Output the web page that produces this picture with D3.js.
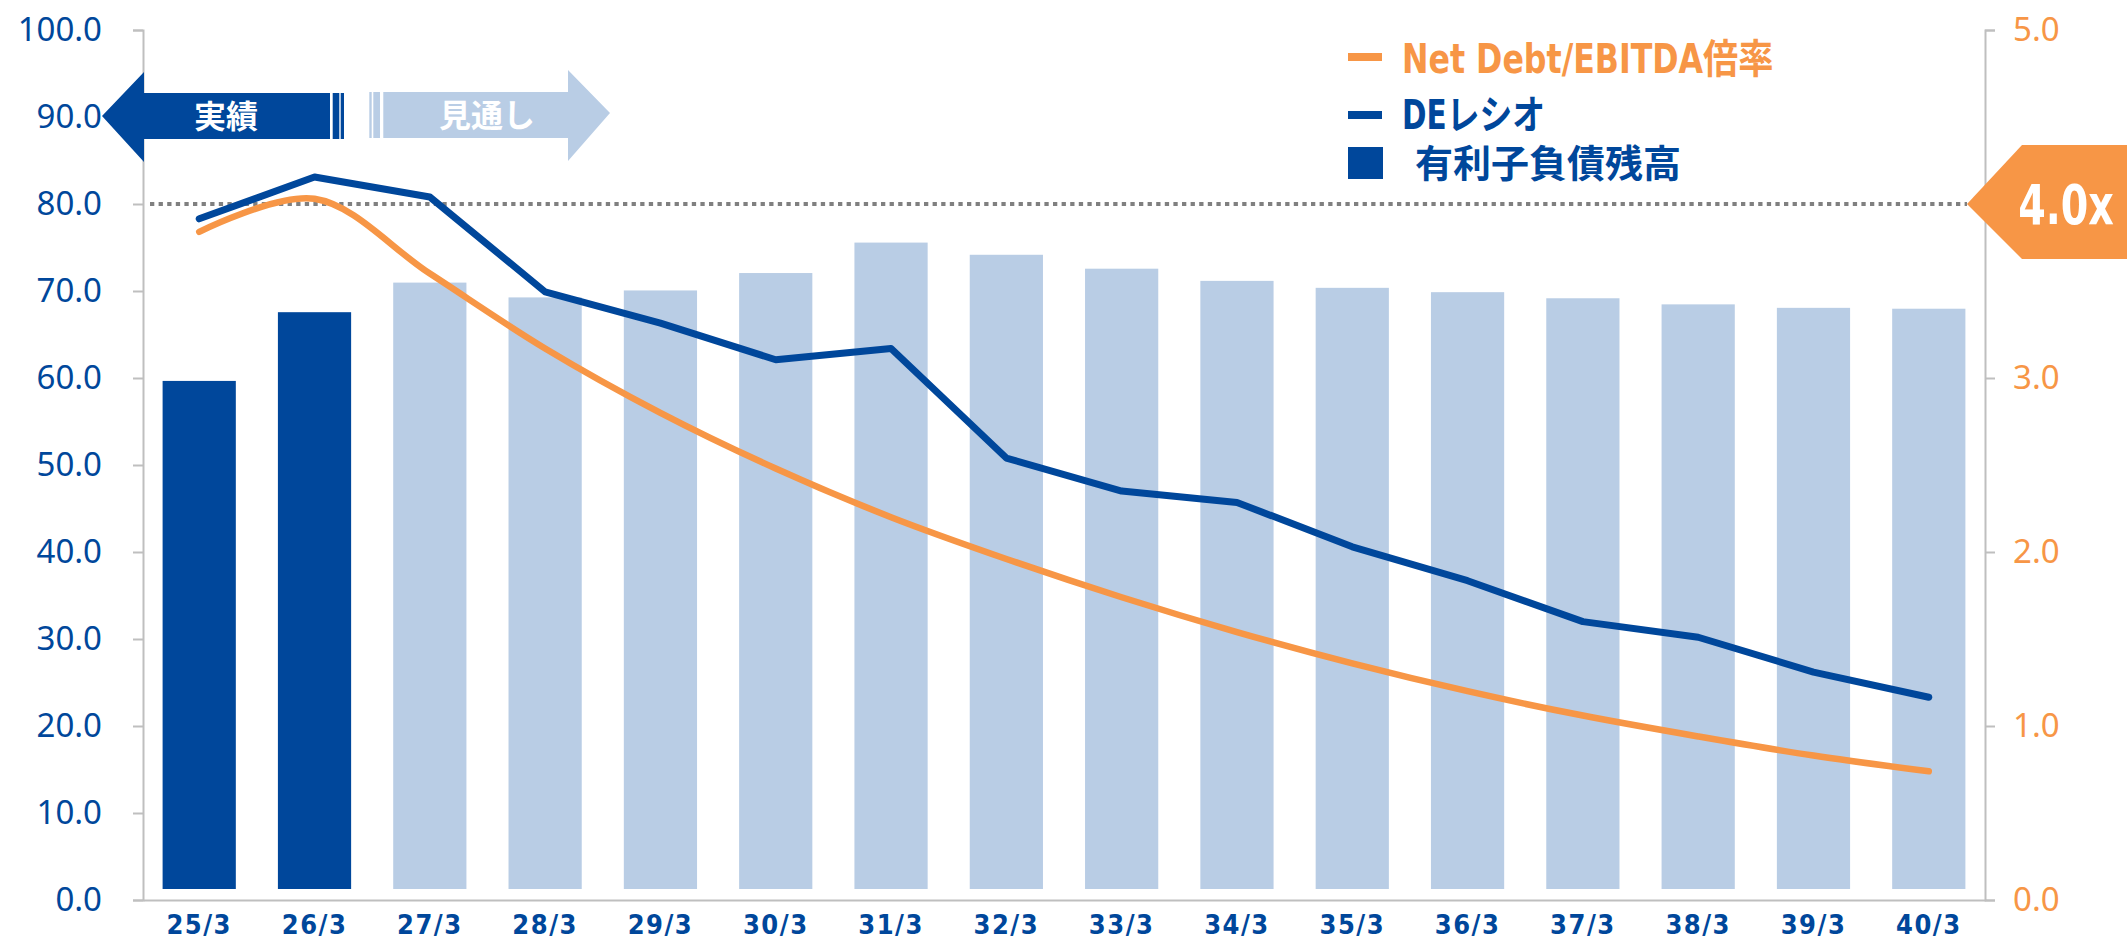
<!DOCTYPE html>
<html>
<head>
<meta charset="utf-8">
<script src="https://cdn.jsdelivr.net/npm/d3@7"></script>
<style>
    body { margin: 0; background: #fff; }
    .axis path, .axis line { stroke: #bfbfbf; stroke-width: 2; }
    .tick-label { font-family: "Noto Sans", "Open Sans", sans-serif; font-size: 33px; font-weight: 400; }
    .cond { font-family: "Liberation Sans Narrow", "DejaVu Sans Condensed", "Noto Sans CJK JP", sans-serif; }
    .jp { font-family: "Noto Sans CJK JP", sans-serif; font-weight: 700; }
</style>
</head>
<body>
<div id="chart"></div>
<script>

// ---- data ----
const categories = ["25/3", "26/3", "27/3", "28/3", "29/3", "30/3", "31/3", "32/3",
    "33/3", "34/3", "35/3", "36/3", "37/3", "38/3", "39/3", "40/3"];

// 有利子負債残高 (bars, left axis)
const debtBalance = [58.4, 66.3, 69.7, 68.0, 68.8, 70.8, 74.3, 72.9,
    71.3, 69.9, 69.1, 68.6, 67.9, 67.2, 66.8, 66.7];

// DEレシオ (left axis)
const deRatio = [78.3, 83.1, 80.8, 69.9, 66.3, 62.1, 63.4, 50.8,
    47.0, 45.7, 40.6, 36.7, 32.0, 30.2, 26.2, 23.3];

// Net Debt/EBITDA倍率 (right axis)
const netDebtEbitda = [3.84, 4.03, 3.60, 3.17, 2.80, 2.48, 2.20, 1.96,
    1.74, 1.54, 1.36, 1.20, 1.06, 0.94, 0.83, 0.74];

const actualCount = 2;          // 25/3, 26/3 = 実績
const leftTicks = [0, 10, 20, 30, 40, 50, 60, 70, 80, 90, 100];
const rightTicks = [0, 1, 2, 3, 4, 5];
const threshold = 4.0;

const legendItems = ["Net Debt/EBITDA倍率", "DEレシオ", "有利子負債残高"];

// colours
const darkBlue = "#00479b";
const lightBlue = "#b9cde5";
const orange = "#f79646";

// ---- setup ----
const width = 2127, height = 941;

const svg = d3.select("#chart").append("svg")
    .attr("width", width)
    .attr("height", height);

const x = d3.scaleBand()
    .domain(categories)
    .range([143, 1985])
    .paddingInner(0.365)
    .paddingOuter(0.17);

const yLeft = d3.scaleLinear().domain([0, 100]).range([900, 30]);
const yRight = d3.scaleLinear().domain([0, 5]).range([900, 30]);
// bars sit a little above the axis line in the original
const yBar = d3.scaleLinear().domain([0, 100]).range([889, 19]);

const cx = d => x(d) + x.bandwidth() / 2;

// ---- bars ----
svg.append("g").selectAll(".bar")
    .data(categories)
    .enter().append("rect")
    .attr("class", "bar")
    .attr("x", d => x(d))
    .attr("width", x.bandwidth())
    .attr("y", (d, i) => yBar(debtBalance[i]))
    .attr("height", (d, i) => yBar(0) - yBar(debtBalance[i]))
    .attr("fill", (d, i) => i < actualCount ? darkBlue : lightBlue);

// ---- axes ----
svg.append("g")
    .attr("class", "axis y-left")
    .attr("transform", `translate(${x.range()[0]},0)`)
    .call(d3.axisLeft(yLeft).tickValues(leftTicks).tickSize(10).tickPadding(31)
        .tickFormat(d3.format(".1f")))
    .selectAll("text")
    .attr("class", "tick-label")
    .attr("fill", darkBlue);

const rightAxis = svg.append("g")
    .attr("class", "axis y-right")
    .attr("transform", `translate(${x.range()[1]},0)`)
    .call(d3.axisRight(yRight).tickValues(rightTicks).tickSize(10).tickPadding(18)
        .tickFormat(d3.format(".1f")));

rightAxis.selectAll("text")
    .attr("class", "tick-label")
    .attr("fill", orange);

// the 4.0 label sits under the badge in the original
rightAxis.selectAll(".tick")
    .filter(d => d === threshold)
    .select("text").remove();

const xAxisGroup = svg.append("g")
    .attr("class", "axis x-axis")
    .attr("transform", `translate(0,${yLeft(0)})`)
    .call(d3.axisBottom(x).tickSize(0).tickPadding(15));

xAxisGroup.selectAll("text")
    .attr("class", "cond")
    .attr("font-size", "27px")
    .attr("font-weight", 700)
    .attr("letter-spacing", "1.5px")
    .attr("fill", darkBlue);

// ---- threshold line ----
const badgeTip = x.range()[1] - 18;

svg.append("line")
    .attr("x1", x.range()[0] + 7)
    .attr("x2", badgeTip)
    .attr("y1", yRight(threshold))
    .attr("y2", yRight(threshold))
    .attr("stroke", "#808080")
    .attr("stroke-width", 4)
    .attr("stroke-dasharray", "4.3,4.3");

// ---- lines ----
const deLine = d3.line()
    .x((d, i) => cx(categories[i]))
    .y(d => yLeft(d));

svg.append("path")
    .datum(deRatio)
    .attr("d", deLine)
    .attr("fill", "none")
    .attr("stroke", darkBlue)
    .attr("stroke-width", 7)
    .attr("stroke-linecap", "round")
    .attr("stroke-linejoin", "round");

const ndLine = d3.line()
    .x((d, i) => cx(categories[i]))
    .y(d => yRight(d))
    .curve(d3.curveCatmullRom.alpha(0.5));

svg.append("path")
    .datum(netDebtEbitda)
    .attr("d", ndLine)
    .attr("fill", "none")
    .attr("stroke", orange)
    .attr("stroke-width", 6.5)
    .attr("stroke-linecap", "round");

// ---- 4.0x badge ----
const by = yRight(threshold);
svg.append("path")
    .attr("d", `M${badgeTip},${by} L${badgeTip + 55},${by - 59} L${width},${by - 59} L${width},${by + 55} L${badgeTip + 55},${by + 55} Z`)
    .attr("fill", orange);

svg.append("text")
    .attr("class", "cond")
    .attr("transform", `translate(${badgeTip + 99},${by + 20}) scale(0.8,1)`)
    .attr("text-anchor", "middle")
    .attr("font-size", "55px")
    .attr("font-weight", 700)
    .attr("fill", "#fff")
    .text(threshold.toFixed(1) + "x");

// ---- 実績 / 見通し arrows ----
const arrows = svg.append("g");
const ay = 116;

arrows.append("path")
    .attr("d", `M102,${ay} L144,${ay - 44} L144,${ay - 23} L330,${ay - 23} L330,${ay + 23} L144,${ay + 23} L144,${ay + 46} Z`)
    .attr("fill", darkBlue);
arrows.append("rect").attr("x", 332.7).attr("y", ay - 23).attr("width", 6.6).attr("height", 46).attr("fill", darkBlue);
arrows.append("rect").attr("x", 340.7).attr("y", ay - 23).attr("width", 3.3).attr("height", 46).attr("fill", darkBlue);

arrows.append("rect").attr("x", 369.3).attr("y", ay - 24).attr("width", 2.4).attr("height", 46).attr("fill", lightBlue);
arrows.append("rect").attr("x", 373.3).attr("y", ay - 24).attr("width", 6.7).attr("height", 46).attr("fill", lightBlue);
arrows.append("path")
    .attr("d", `M383.3,${ay - 24} L568,${ay - 24} L568,${ay - 46} L610,${ay - 3} L568,${ay + 45} L568,${ay + 22} L383.3,${ay + 22} Z`)
    .attr("fill", lightBlue);

arrows.append("text")
    .attr("class", "jp")
    .attr("x", 226).attr("y", ay + 12)
    .attr("text-anchor", "middle")
    .attr("font-size", "32px")
    .attr("fill", "#fff")
    .text("実績");

arrows.append("text")
    .attr("class", "jp")
    .attr("x", 487).attr("y", ay + 11)
    .attr("text-anchor", "middle")
    .attr("font-size", "32px")
    .attr("fill", "#fff")
    .text("見通し");

// ---- legend ----
const legend = svg.append("g");

legend.append("rect").attr("x", 1348).attr("y", 53).attr("width", 34).attr("height", 8).attr("fill", orange);
legend.append("text")
    .attr("class", "cond")
    .attr("transform", "translate(1402,73) scale(0.88,1)")
    .attr("font-size", "40px")
    .attr("font-weight", 700)
    .attr("fill", orange)
    .text(legendItems[0]);

legend.append("rect").attr("x", 1348).attr("y", 111).attr("width", 34).attr("height", 8).attr("fill", darkBlue);
legend.append("text")
    .attr("class", "cond")
    .attr("transform", "translate(1402,129) scale(0.82,1)")
    .attr("font-size", "40px")
    .attr("font-weight", 700)
    .attr("fill", darkBlue)
    .text(legendItems[1]);

legend.append("rect").attr("x", 1348).attr("y", 147).attr("width", 35).attr("height", 32).attr("fill", darkBlue);
legend.append("text")
    .attr("class", "jp")
    .attr("x", 1415).attr("y", 177)
    .attr("font-size", "38px")
    .attr("fill", darkBlue)
    .text(legendItems[2]);

</script>
</body>
</html>
